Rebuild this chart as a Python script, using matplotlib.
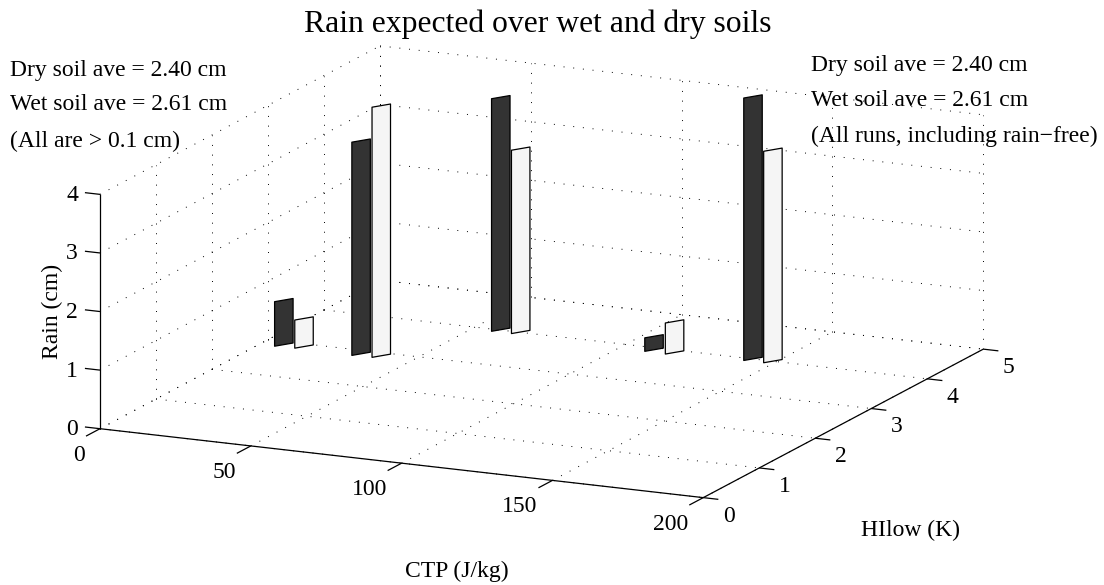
import matplotlib
matplotlib.use("Agg")
import matplotlib.pyplot as plt
from mpl_toolkits.mplot3d import proj3d
from mpl_toolkits.mplot3d.art3d import Poly3DCollection

plt.rcParams["font.family"] = ["Liberation Serif", "DejaVu Serif"]

W, H = 1104, 585

# one flat bar per soil type, x/y are the front left corner of the bar
ctp_dry = [4.8, 30.6, 56.3, 108.4, 140.1]
hilow_dry = [2.85, 2.84, 3.95, 3.88, 3.94]
rain_dry = [0.76, 3.64, 3.97, 0.23, 4.48]

ctp_wet = [11.3, 37.1, 62.9, 115.4, 146.7]
hilow_wet = [2.86, 2.85, 3.95, 3.87, 3.94]
rain_wet = [0.48, 4.27, 3.13, 0.53, 3.61]

ctp_ticks = [0, 50, 100, 150, 200]
hilow_ticks = [0, 1, 2, 3, 4, 5]
rain_ticks = [0, 1, 2, 3, 4]

notes_left = ["Dry soil ave = 2.40 cm", "Wet soil ave = 2.61 cm", "(All are > 0.1 cm)"]
notes_right = ["Dry soil ave = 2.40 cm", "Wet soil ave = 2.61 cm",
               "(All runs, including rain\u2212free)"]

bar_dx = 3.4
bar_dy = 0.147
fs = 17

fig = plt.figure(figsize=(W / 100, H / 100), dpi=100)
ax = fig.add_axes([0, 0, 1, 1], projection="3d", computed_zorder=False, proj_type="ortho")
ax.set_axis_off()
ax.patch.set_alpha(0)
ax.view_init(elev=14.25, azim=-65.1)
ax.set_box_aspect((1, 1, 0.3635))
ax.set_xlim(0, 200, view_margin=0)
ax.set_ylim(0, 5, view_margin=0)
ax.set_zlim(0, 4, view_margin=0)


def to_px(x, y, z):
    ax.apply_aspect()
    X, Y, _ = proj3d.proj_transform(x, y, z, ax.get_proj())
    return ax.transData.transform((X, Y))


def place_axes():
    # size and shift the axes so the box corners land on the wanted pixels
    side = min(W, H)
    ax.set_position([0, 0, side / W, side / H])
    span = to_px(200, 5, 0)[0] - to_px(0, 0, 0)[0]
    side = side * 883.3 / span
    ax.set_position([0, 0, side / W, side / H])
    px = to_px(0, 0, 0)
    ax.set_position([(100 - px[0]) / W, (H - 428.7 - px[1]) / H, side / W, side / H])


def grid_line(xs, ys, zs):
    ax.plot(xs, ys, zs, color="black", lw=0.7, ls=(0, (1, 9)), dash_capstyle="butt", zorder=1)


def solid_line(xs, ys, zs, lw=0.9):
    ax.plot(xs, ys, zs, color="black", lw=lw, solid_capstyle="butt", zorder=2)


def tick_label(x, y, z, s, ha, down=2.5):
    px = to_px(x, y, z)
    fig.text(px[0] / W, (px[1] - down) / H, s, ha=ha, va="center", fontsize=fs)


def draw_bars(ctp, hilow, rain, fill, z):
    for x, y, r in zip(ctp, hilow, rain):
        verts = [(x, y, 0), (x + bar_dx, y + bar_dy, 0),
                 (x + bar_dx, y + bar_dy, r), (x, y, r)]
        ax.add_collection3d(Poly3DCollection([verts], facecolor=fill, edgecolor="black",
                                             linewidth=0.9, zorder=z))


place_axes()

for t in ctp_ticks:
    grid_line([t, t], [0, 5], [0, 0])
    grid_line([t, t], [5, 5], [0, 4])
for t in hilow_ticks:
    grid_line([0, 200], [t, t], [0, 0])
    grid_line([0, 0], [t, t], [0, 4])
for t in rain_ticks:
    grid_line([0, 0], [0, 5], [t, t])
    grid_line([0, 200], [5, 5], [t, t])

solid_line([0, 200], [0, 0], [0, 0])
solid_line([200, 200], [0, 5], [0, 0])
solid_line([0, 0], [0, 0], [0, 4])

for t in ctp_ticks:
    solid_line([t, t], [0, -0.25], [0, 0])
    tick_label(t + 8.3, -0.71, 0, str(t), "right")
for t in hilow_ticks:
    solid_line([200, 205], [t, t], [0, 0])
    tick_label(213.5, t - 0.38, 0, str(t), "left")
for t in rain_ticks:
    solid_line([0, -5], [0, 0], [t, t])
    tick_label(-6, -0.07, t, str(t), "right", down=1)

draw_bars(ctp_dry, hilow_dry, rain_dry, "#333333", 3)
draw_bars(ctp_wet, hilow_wet, rain_wet, "#f5f5f5", 4)

fig.text(538 / W, 1 - 24 / H, "Rain expected over wet and dry soils", ha="center", va="center", fontsize=22.8)
fig.text(52 / W, 1 - 311 / H, "Rain (cm)", ha="center", va="center", rotation=90, fontsize=fs)
fig.text(457 / W, 1 - 571 / H, "CTP (J/kg)", ha="center", va="center", fontsize=fs)
fig.text(911 / W, 1 - 530 / H, "HIlow (K)", ha="center", va="center", fontsize=fs)

for s, y in zip(notes_left, [70.5, 105, 141]):
    fig.text(10 / W, 1 - y / H, s, ha="left", va="center", fontsize=fs)
for s, y in zip(notes_right, [65.5, 100.5, 136.5]):
    fig.text(811 / W, 1 - y / H, s, ha="left", va="center", fontsize=fs)

fig.savefig("out.png", dpi=100)
